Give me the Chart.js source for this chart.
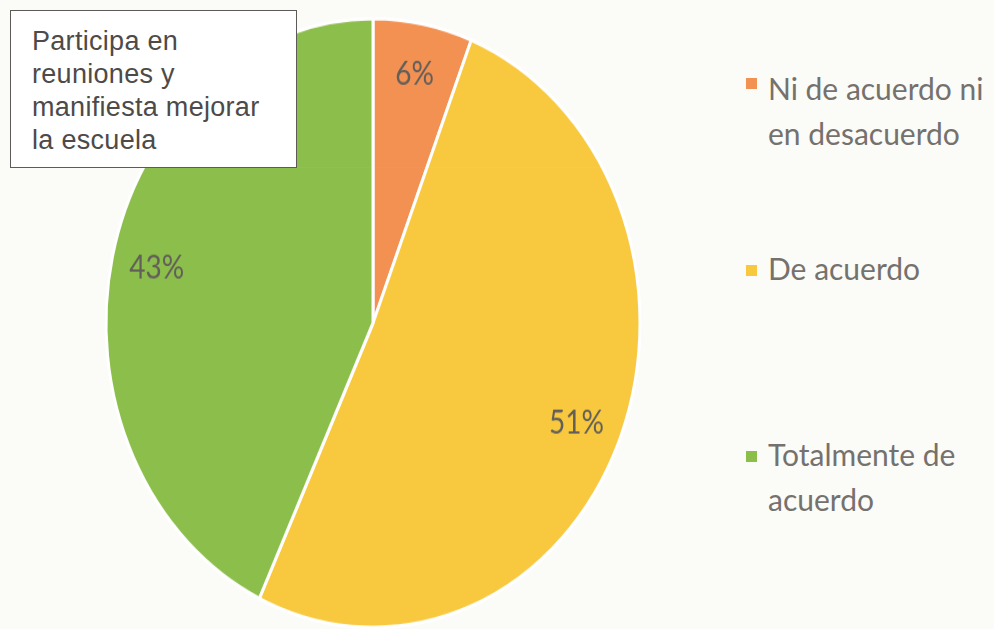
<!DOCTYPE html>
<html>
<head>
<meta charset="utf-8">
<script src="https://cdn.jsdelivr.net/npm/chart.js@4/dist/chart.umd.min.js"></script>
<style>
  html,body{margin:0;padding:0;}
  body{width:994px;height:629px;overflow:hidden;background:#fbfbf8;position:relative;}
  #wrap{position:absolute;left:93px;top:43px;width:560px;height:560px;transform:scaleY(1.14);transform-origin:280px 280px;}
  #box{position:absolute;left:10px;top:10px;width:287px;height:158px;border:1.5px solid #5e5a58;background:#fff;box-sizing:border-box;
       font-family:"Liberation Sans",Arial,sans-serif;font-size:27px;line-height:33px;color:#4e4a48;padding:14px 0 0 21px;letter-spacing:0.3px;}
  .leg{position:absolute;left:768px;font-family:Lato,sans-serif;font-size:30px;line-height:45px;color:#75716d;}
  .sq{position:absolute;width:11px;height:11px;}
</style>
</head>
<body>
<div id="wrap"><canvas id="c" width="560" height="560"></canvas></div>
<div id="box">Participa en<br>reuniones y<br>manifiesta mejorar<br>la escuela</div>
<div id="legend"></div>
<script>
const categories = ["Ni de acuerdo ni en desacuerdo", "De acuerdo", "Totalmente de acuerdo"];
const legendLines = [["Ni de acuerdo ni", "en desacuerdo"], ["De acuerdo"], ["Totalmente de", "acuerdo"]];
const values = [6, 51, 43];
const colors = ["#f39152", "#f8c93f", "#8cbe4b"];

const legendTops = [66, 246, 432];
const legendSquareTops = [78, 265, 451];
const legEl = document.getElementById('legend');
categories.forEach((c, i) => {
  const sq = document.createElement('div');
  sq.className = 'sq';
  sq.style.left = '746px';
  sq.style.top = legendSquareTops[i] + 'px';
  sq.style.background = colors[i];
  legEl.appendChild(sq);
  const t = document.createElement('div');
  t.className = 'leg';
  t.style.top = legendTops[i] + 'px';
  t.innerHTML = legendLines[i].join('<br>');
  legEl.appendChild(t);
});

const labelPlugin = {
  id: 'pctLabels',
  afterDatasetsDraw(chart) {
    const ctx = chart.ctx;
    const meta = chart.getDatasetMeta(0);
    ctx.save();
    ctx.font = '28px Lato, sans-serif';
    ctx.fillStyle = '#625e5a';
    ctx.textAlign = 'center';
    ctx.textBaseline = 'middle';
    meta.data.forEach((arc, i) => {
      const p = arc.getProps(['x','y','startAngle','endAngle','outerRadius'], true);
      const a = (p.startAngle + p.endAngle) / 2;
      const r = p.outerRadius * 0.83;
      ctx.fillText(values[i] + '%', p.x + Math.cos(a) * r, p.y + Math.sin(a) * r);
    });
    ctx.restore();
  }
};

new Chart(document.getElementById('c'), {
  type: 'pie',
  data: {
    labels: categories,
    datasets: [{
      data: values,
      backgroundColor: colors,
      borderColor: '#ffffff',
      borderWidth: 3
    }]
  },
  options: {
    responsive: false,
    animation: false,
    devicePixelRatio: 1,
    radius: 267,
    plugins: { legend: { display: false }, tooltip: { enabled: false } }
  },
  plugins: [labelPlugin]
});
</script>
</body>
</html>
